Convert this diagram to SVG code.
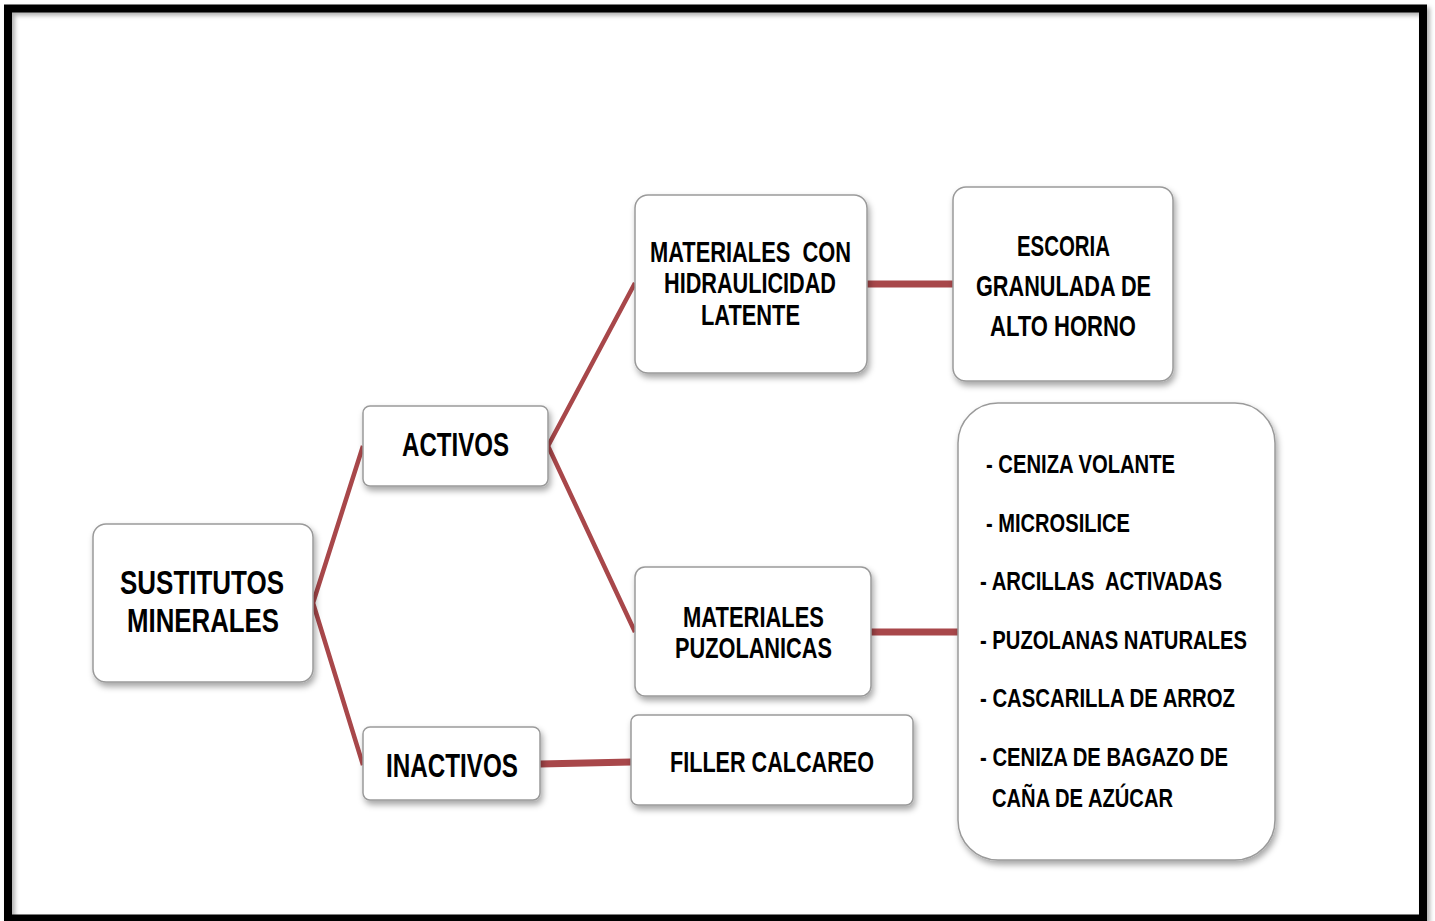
<svg xmlns="http://www.w3.org/2000/svg" width="1435" height="921" viewBox="0 0 1435 921">
<style>
.box{fill:#fff;stroke:#9a9a9a;stroke-width:1.5;filter:url(#sh)}
.t{font-family:"Liberation Sans Narrow","Liberation Sans",Arial,sans-serif;font-weight:bold;fill:#000;white-space:pre}
.c{stroke:#a8474a;fill:none;stroke-linecap:butt}
.d{stroke-width:4.5}
.h{stroke-width:7}
</style>
<defs>
<filter id="sh" x="-10%" y="-10%" width="125%" height="130%">
<feDropShadow dx="2" dy="4" stdDeviation="3" flood-color="#000" flood-opacity="0.35"/>
</filter>
<filter id="fsh" x="-2%" y="-2%" width="104%" height="104%">
<feDropShadow dx="3" dy="3" stdDeviation="2" flood-color="#000" flood-opacity="0.3"/>
</filter>
</defs>
<rect width="1435" height="921" fill="#fff"/>
<rect x="8" y="8.5" width="1415" height="910" fill="none" stroke="#000" stroke-width="8" filter="url(#fsh)"/>

<g id="connectors">
<polyline class="c d" points="363,446 313,603 363,765"/>
<polyline class="c d" points="635,283 548,446 635,632"/>
<line class="c h" x1="867" y1="284" x2="953" y2="284"/>
<line class="c h" x1="871" y1="632" x2="958" y2="632"/>
<line class="c h" x1="540" y1="764" x2="631" y2="762"/>
</g>

<g id="sustitutos">
<rect class="box" x="93" y="524" width="220" height="158" rx="13"/>
<text class="t" font-size="33" x="120" y="594" textLength="164" lengthAdjust="spacingAndGlyphs">SUSTITUTOS</text>
<text class="t" font-size="33" x="127" y="632" textLength="152" lengthAdjust="spacingAndGlyphs">MINERALES</text>
</g>

<g id="activos">
<rect class="box" x="363" y="406" width="185" height="80" rx="7"/>
<text class="t" font-size="33" x="402" y="456" textLength="107" lengthAdjust="spacingAndGlyphs">ACTIVOS</text>
</g>

<g id="inactivos">
<rect class="box" x="363" y="727" width="177" height="73" rx="7"/>
<text class="t" font-size="33" x="386" y="777" textLength="132" lengthAdjust="spacingAndGlyphs">INACTIVOS</text>
</g>

<g id="hidraulicidad">
<rect class="box" x="635" y="195" width="232" height="178" rx="13"/>
<text class="t" font-size="29" x="650" y="262" textLength="201" lengthAdjust="spacingAndGlyphs" xml:space="preserve">MATERIALES  CON</text>
<text class="t" font-size="29" x="664" y="293" textLength="172" lengthAdjust="spacingAndGlyphs">HIDRAULICIDAD</text>
<text class="t" font-size="29" x="701" y="325" textLength="99" lengthAdjust="spacingAndGlyphs">LATENTE</text>
</g>

<g id="escoria">
<rect class="box" x="953" y="187" width="220" height="194" rx="13"/>
<text class="t" font-size="30" x="1017" y="256" textLength="93" lengthAdjust="spacingAndGlyphs">ESCORIA</text>
<text class="t" font-size="30" x="976" y="296" textLength="175" lengthAdjust="spacingAndGlyphs">GRANULADA DE</text>
<text class="t" font-size="30" x="990" y="336" textLength="146" lengthAdjust="spacingAndGlyphs">ALTO HORNO</text>
</g>

<g id="puzolanicas">
<rect class="box" x="635" y="567" width="236" height="129" rx="10"/>
<text class="t" font-size="29" x="683" y="627" textLength="141" lengthAdjust="spacingAndGlyphs">MATERIALES</text>
<text class="t" font-size="29" x="675" y="658" textLength="157" lengthAdjust="spacingAndGlyphs">PUZOLANICAS</text>
</g>

<g id="filler">
<rect class="box" x="631" y="715" width="282" height="90" rx="7"/>
<text class="t" font-size="30" x="670" y="772" textLength="204" lengthAdjust="spacingAndGlyphs">FILLER CALCAREO</text>
</g>

<g id="lista">
<rect class="box" x="958" y="403" width="317" height="457" rx="40"/>
<text class="t" font-size="25" x="986" y="473" textLength="189" lengthAdjust="spacingAndGlyphs">- CENIZA VOLANTE</text>
<text class="t" font-size="25" x="986" y="532" textLength="144" lengthAdjust="spacingAndGlyphs">- MICROSILICE</text>
<text class="t" font-size="25" x="980" y="590" textLength="242" lengthAdjust="spacingAndGlyphs" xml:space="preserve">- ARCILLAS  ACTIVADAS</text>
<text class="t" font-size="25" x="980" y="649" textLength="267" lengthAdjust="spacingAndGlyphs">- PUZOLANAS NATURALES</text>
<text class="t" font-size="25" x="980" y="707" textLength="255" lengthAdjust="spacingAndGlyphs">- CASCARILLA DE ARROZ</text>
<text class="t" font-size="25" x="980" y="766" textLength="248" lengthAdjust="spacingAndGlyphs">- CENIZA DE BAGAZO DE</text>
<text class="t" font-size="25" x="992" y="807" textLength="181" lengthAdjust="spacingAndGlyphs">CAÑA DE AZÚCAR</text>
</g>
</svg>
